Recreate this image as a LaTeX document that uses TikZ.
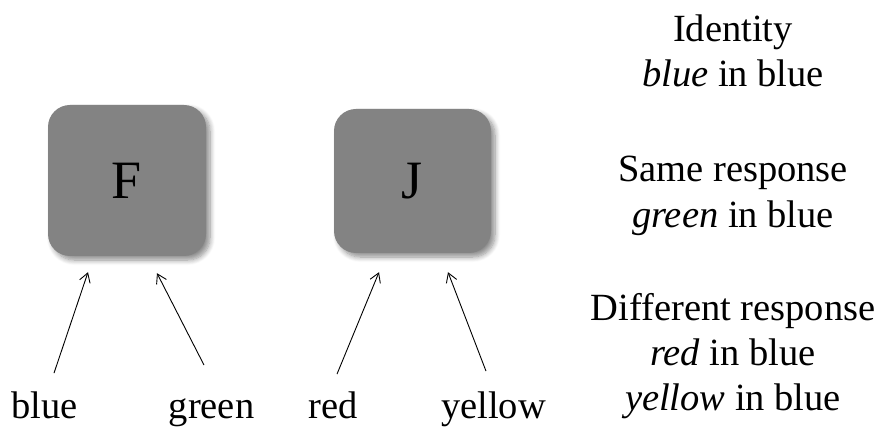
\documentclass[tikz,border=0pt]{standalone}
\usepackage{fontspec}
\setmainfont{Liberation Serif}
\usetikzlibrary{arrows.meta,shadows.blur}
\definecolor{boxgray}{RGB}{131,131,131}
\tikzset{
  keybox/.style={draw=none, fill=boxgray, rounded corners=22pt, inner sep=0pt,
    blur shadow={shadow xshift=4pt, shadow yshift=-4pt, shadow blur steps=8, shadow blur radius=5pt, shadow opacity=45},
    font=\fontsize{54}{60}\selectfont},
  lbl/.style={anchor=base, inner sep=0pt, font=\fontsize{38.5}{44}\selectfont},
  arr/.style={line width=0.9pt, -{Straight Barb[length=9pt,width=11pt,line width=0.9pt]}}
}
\begin{document}
\begin{tikzpicture}[x=1pt,y=-1pt]
\useasboundingbox (0,0) rectangle (880,427);
% keys
\node[keybox, minimum width=158pt, minimum height=151pt] (F) at (127,180.5) {F};
\node[keybox, minimum width=157pt, minimum height=144pt] (J) at (412.5,181) {J};
% bottom labels
\node[lbl] (blue) at (44.5,418) {blue};
\node[lbl] (green) at (211.5,418) {green};
\node[lbl] (red) at (333,418) {red};
\node[lbl] (yellow) at (493.5,418) {yellow};
% connectors
\draw[arr] ([xshift=9.5pt,yshift=18pt]blue.north) -- ([xshift=-39pt,yshift=-16pt]F.south);
\draw[arr] ([xshift=-7.5pt,yshift=33pt]green.north) -- ([xshift=30pt,yshift=-17pt]F.south);
\draw[arr] ([xshift=4pt,yshift=17pt]red.north) -- ([xshift=-33.5pt,yshift=-19pt]J.south);
\draw[arr] ([xshift=-7.5pt,yshift=20pt]yellow.north) -- ([xshift=35.5pt,yshift=-19pt]J.south);
% right legend
\node[lbl] (t1) at (733,42) {Identity};
\node[lbl] (t2) at (733,87) {\textit{blue} in blue};
\node[lbl] (t3) at (733,182) {Same response};
\node[lbl] (t4) at (733,228) {\textit{green} in blue};
\node[lbl] (t5) at (733,320) {Different response};
\node[lbl] (t6) at (733,365) {\textit{red} in blue};
\node[lbl] (t7) at (733,410) {\textit{yellow} in blue};
\end{tikzpicture}
\end{document}
